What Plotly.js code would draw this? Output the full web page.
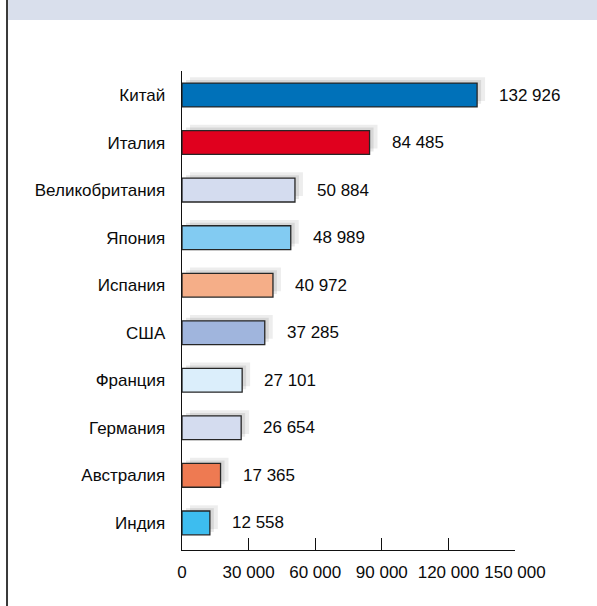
<!DOCTYPE html>
<html>
<head>
<meta charset="utf-8">
<script src="https://cdn.plot.ly/plotly-3.0.1.min.js"></script>
<style>html,body{margin:0;padding:0;background:#fff;}#chart{width:597px;height:606px;}</style>
</head>
<body>
<div id="chart"></div>
<script>
const categories = ["Китай","Италия","Великобритания","Япония","Испания","США","Франция","Германия","Австралия","Индия"];
const values = [132926, 84485, 50884, 48989, 40972, 37285, 27101, 26654, 17365, 12558];
const barColors = ["#0071b9","#e0001e","#d4dcef","#82cbf2","#f5ae88","#a0b5dd","#dbeefb","#d4dcef","#ee7a52","#3dbdef"];
const tickValues = [0, 30000, 60000, 90000, 120000, 150000];

function fmt(v){ return String(v).replace(/\B(?=(\d{3})+(?!\d))/g, " "); }

const FONT = "Liberation Sans, Arial, sans-serif";

function shadowTrace(xa, ya, alpha){
  return {
    type: "bar", orientation: "h", x: values, y: categories,
    xaxis: xa, yaxis: ya, width: 0.5,
    marker: {color: "rgba(0,0,0," + alpha + ")", line: {width: 0}},
    hoverinfo: "skip", showlegend: false
  };
}
const outerShadow = shadowTrace("x", "y", 0.07);
const innerShadow = shadowTrace("x2", "y2", 0.09);
const bars = {
  type: "bar", orientation: "h", x: values, y: categories,
  xaxis: "x3", yaxis: "y3", width: 0.5,
  marker: {color: barColors, line: {color: "#262626", width: 1.3}},
  showlegend: false
};

const annotations = categories.map((c, i) => ({
  x: values[i], y: c, xref: "x3", yref: "y3",
  text: fmt(values[i]), showarrow: false,
  xanchor: "left", yanchor: "middle", xshift: 20,
  font: {family: FONT, size: 17, color: "#0a0a0a"}
}));

const hiddenX = (r, over) => Object.assign({range: r, visible: false, fixedrange: true}, over ? {overlaying: "x"} : {});
const hiddenY = (r, over) => Object.assign({type: "category", range: r, visible: false, fixedrange: true}, over ? {overlaying: "y"} : {});

const layout = {
  width: 597, height: 606,
  margin: {l: 182, r: 82, t: 71, b: 56, pad: 0},
  paper_bgcolor: "#fff", plot_bgcolor: "rgba(0,0,0,0)",
  barmode: "overlay",
  showlegend: false,
  font: {family: FONT, size: 17, color: "#0a0a0a"},
  xaxis: hiddenX([-3600, 146400], false),
  yaxis: hiddenY([9.69, -0.38], false),
  xaxis2: hiddenX([-1800, 148200], true),
  yaxis2: hiddenY([9.63, -0.44], true),
  xaxis3: {
    overlaying: "x", side: "bottom", range: [0, 150000],
    tickvals: tickValues, ticktext: tickValues.map(fmt),
    ticks: "inside", ticklen: 12, tickwidth: 1.2, tickcolor: "#111",
    showline: true, linecolor: "#111", linewidth: 1.3,
    showgrid: false, zeroline: false, ticklabelstandoff: 6,
    tickfont: {family: FONT, size: 17, color: "#0a0a0a"}
  },
  yaxis3: {
    overlaying: "y", side: "left", type: "category",
    range: [9.57, -0.505],
    showline: true, linecolor: "#111", linewidth: 1.3,
    ticks: "", showgrid: false, zeroline: false, ticklabelstandoff: 12,
    tickfont: {family: FONT, size: 17, color: "#0a0a0a"}
  },
  annotations: annotations,
  shapes: [
    {type: "rect", xref: "paper", yref: "paper", x0: -0.522, x1: 1.3, y0: 1.1065, y1: 1.3,
     fillcolor: "#d9dfec", line: {width: 0}, layer: "below"},
    {type: "line", xref: "paper", yref: "paper", x0: -0.5255, x1: -0.5255, y0: -0.3, y1: 1.3,
     line: {color: "#3a3a3a", width: 2}}
  ]
};

Plotly.newPlot("chart", [outerShadow, innerShadow, bars], layout, {displayModeBar: false, staticPlot: true});
</script>
</body>
</html>
